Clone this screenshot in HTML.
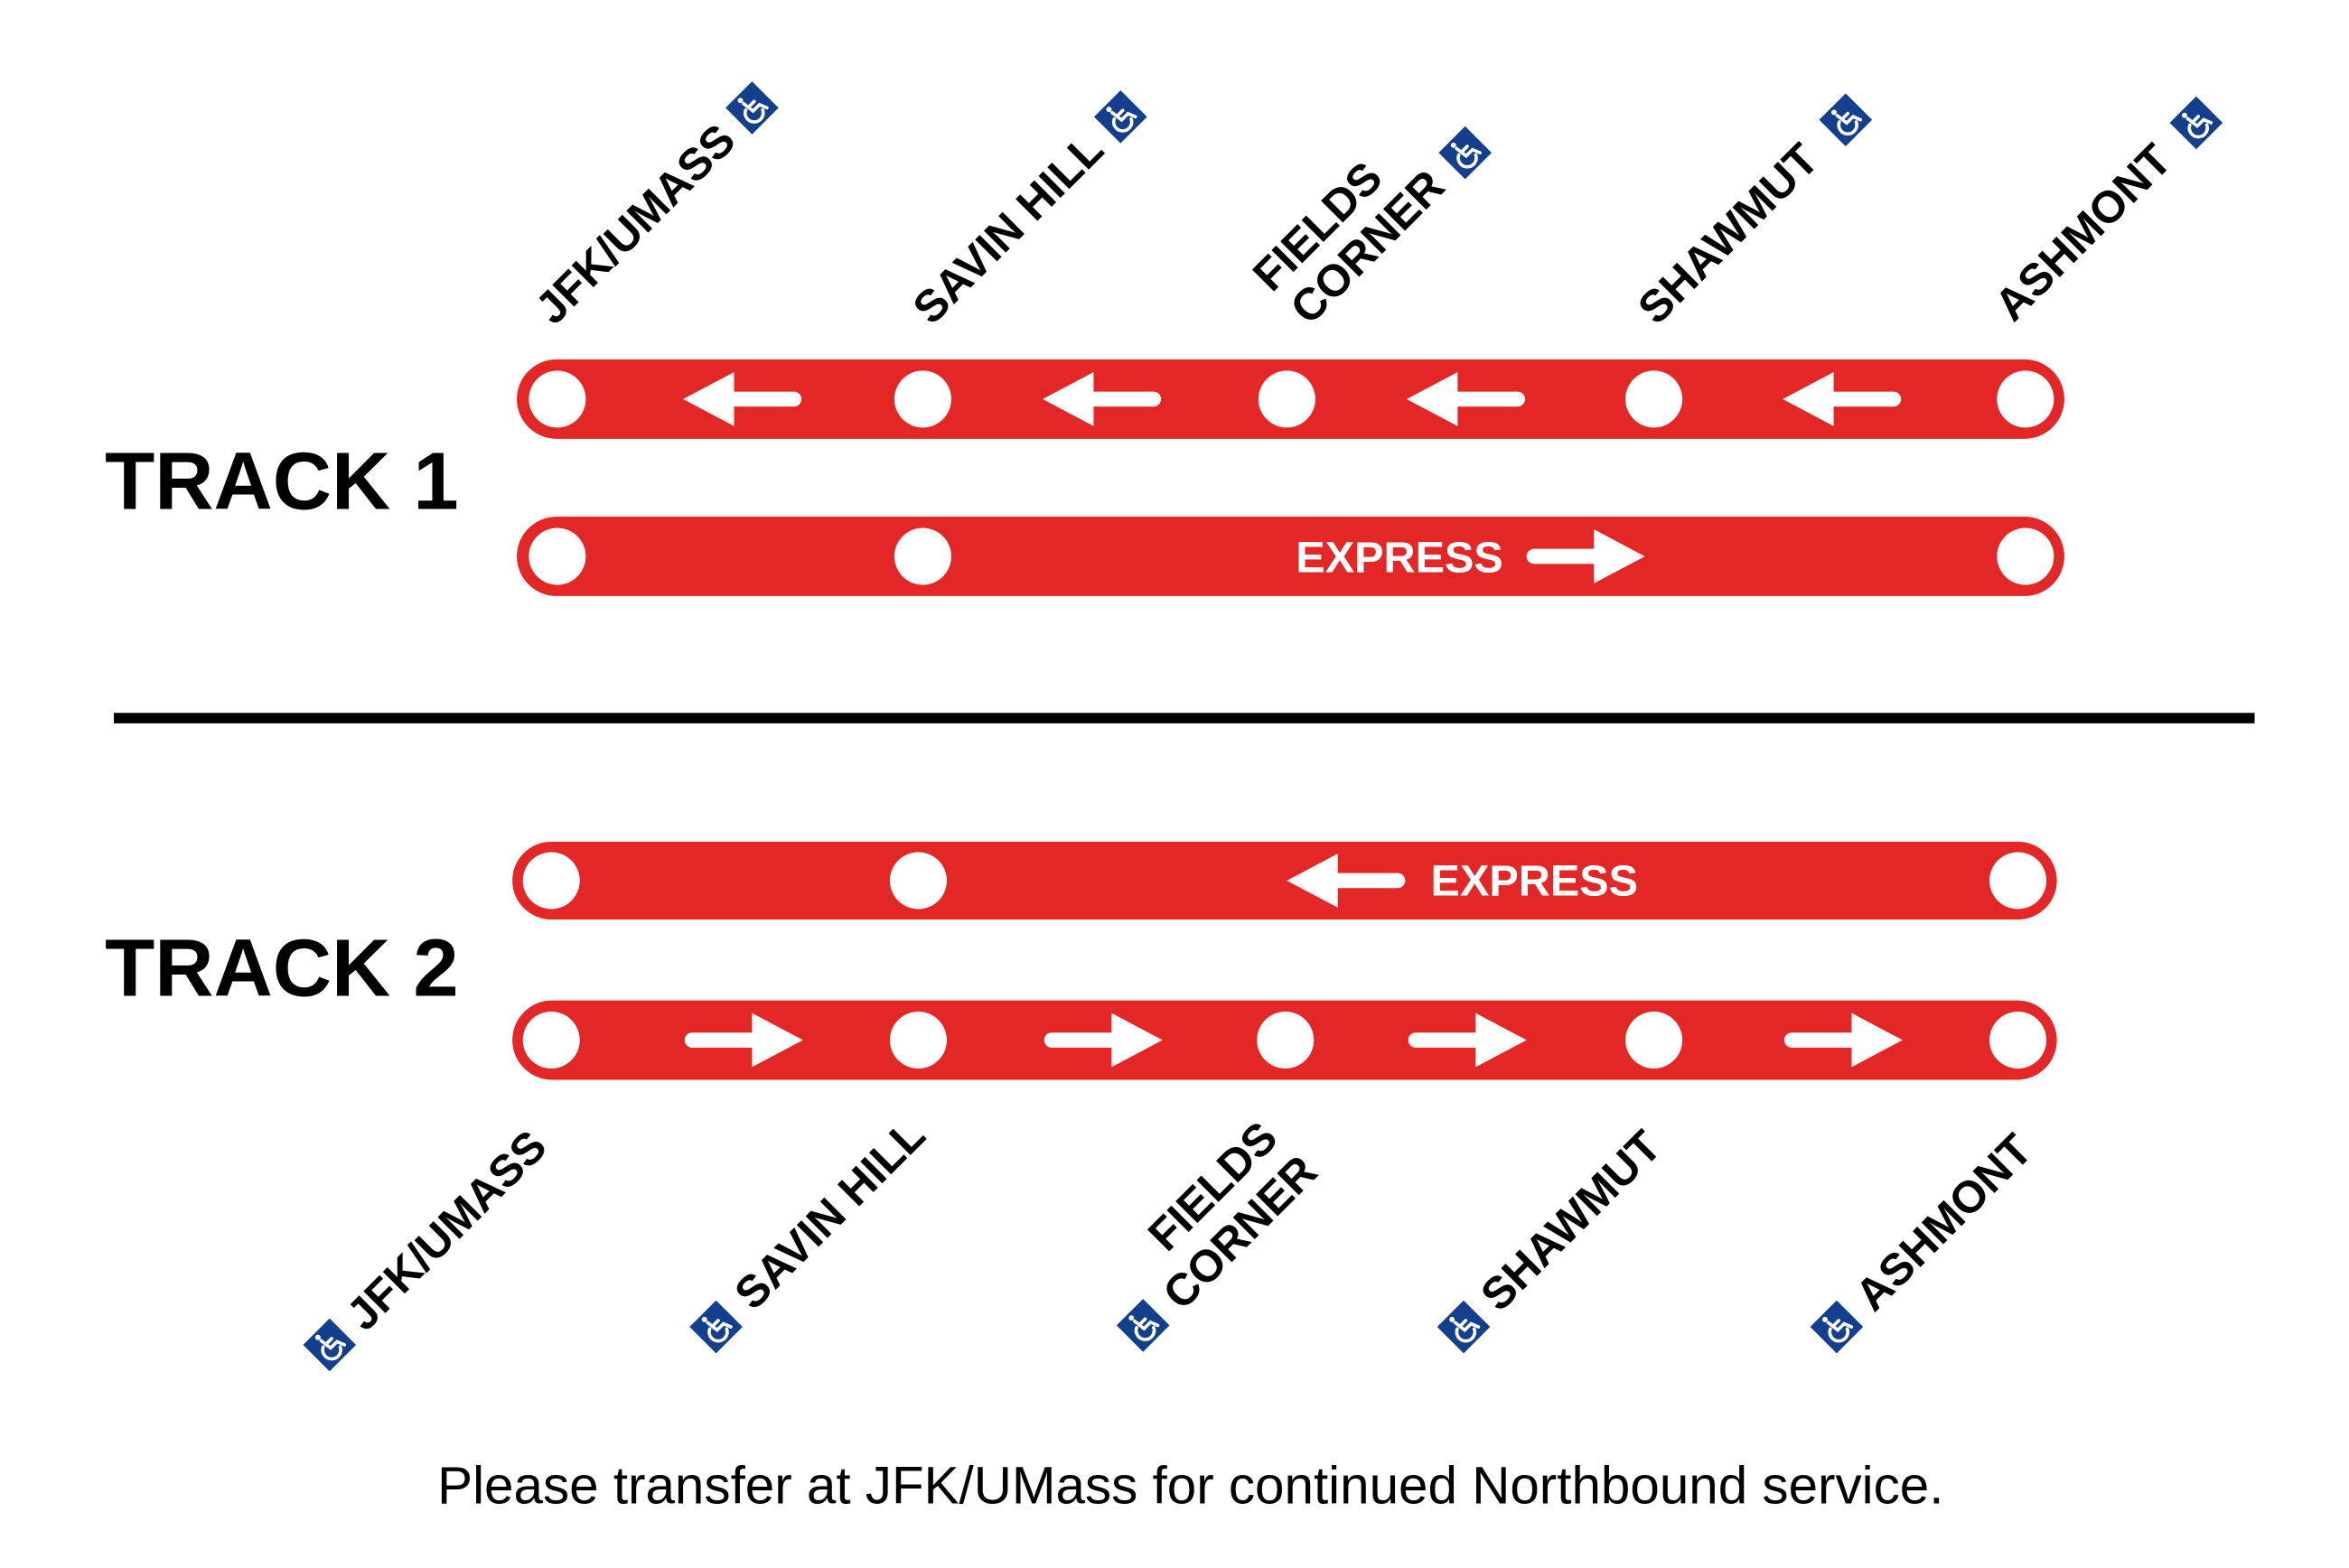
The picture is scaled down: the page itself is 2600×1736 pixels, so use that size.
<!DOCTYPE html>
<html><head><meta charset="utf-8"><style>
html,body{margin:0;padding:0;background:#fff;}
svg{display:block;}
text{font-family:"Liberation Sans",Arial,sans-serif;}
</style></head><body>
<svg width="2600" height="1736" viewBox="0 0 1568 1047" preserveAspectRatio="none" xmlns="http://www.w3.org/2000/svg">
<defs>
  <g id="la"><path d="M-40 0 L-6 -18 L-6 -5 L34 -5 A5 5 0 0 1 34 5 L-6 5 L-6 18 Z" fill="#fff"/></g>
  <g id="ra"><path d="M40 0 L6 -18 L6 -5 L-34 -5 A5 5 0 0 0 -34 5 L6 5 L6 18 Z" fill="#fff"/></g>
  <g id="hc">
    <rect x="-12.5" y="-12.5" width="25" height="25" fill="#133f8c" transform="rotate(45)"/>
    <g transform="rotate(-45)" stroke="#fff" fill="none" stroke-width="2.2" stroke-linecap="round">
      <circle cx="-2" cy="-9" r="1.8" fill="#fff" stroke="none"/>
      <path d="M-2 -6 L-1 2 L5 2 L7 7"/>
      <path d="M-1 -2 L4 -2"/>
      <path d="M-4 -2 A6 6 0 1 0 4 6"/>
    </g>
  </g>
</defs>

<!-- Track 1 -->
<text x="70" y="340" font-size="54.5" font-weight="bold" fill="#000">TRACK 1</text>
<rect x="345" y="240" width="1033" height="53" rx="26.5" fill="#e32726"/>
<g fill="#fff"><circle cx="372" cy="266.5" r="19"/><circle cx="616" cy="266.5" r="19"/><circle cx="859" cy="266.5" r="19"/><circle cx="1104" cy="266.5" r="19"/><circle cx="1352" cy="266.5" r="19"/></g>
<use href="#la" x="496" y="266.5"/><use href="#la" x="736" y="266.5"/><use href="#la" x="979" y="266.5"/><use href="#la" x="1230" y="266.5"/>

<rect x="345" y="345" width="1033" height="53" rx="26.5" fill="#e32726"/>
<g fill="#fff"><circle cx="372" cy="371.5" r="19"/><circle cx="616" cy="371.5" r="19"/><circle cx="1352" cy="371.5" r="19"/></g>
<text x="865" y="382" font-size="29.3" font-weight="bold" fill="#fff">EXPRESS</text>
<use href="#ra" x="1058" y="371.5"/>

<!-- divider -->
<rect x="76" y="476" width="1429" height="7" fill="#000"/>

<!-- Track 2 -->
<text x="70" y="665" font-size="54.5" font-weight="bold" fill="#000">TRACK 2</text>
<rect x="342" y="562" width="1031" height="52" rx="26" fill="#e32726"/>
<g fill="#fff"><circle cx="368" cy="588" r="19"/><circle cx="613" cy="588" r="19"/><circle cx="1347" cy="588" r="19"/></g>
<use href="#la" x="899" y="588"/>
<text x="955" y="598" font-size="29.3" font-weight="bold" fill="#fff">EXPRESS</text>

<rect x="342" y="668" width="1031" height="53" rx="26.5" fill="#e32726"/>
<g fill="#fff"><circle cx="368" cy="694.5" r="19"/><circle cx="613" cy="694.5" r="19"/><circle cx="858" cy="694.5" r="19"/><circle cx="1104" cy="694.5" r="19"/><circle cx="1347" cy="694.5" r="19"/></g>
<use href="#ra" x="496" y="694.5"/><use href="#ra" x="736" y="694.5"/><use href="#ra" x="979" y="694.5"/><use href="#ra" x="1230" y="694.5"/>

<!-- top labels -->
<g font-size="30" font-weight="bold" fill="#000">
<text transform="translate(370,218) rotate(-45)">JFK/UMASS</text>
<text transform="translate(622,218) rotate(-45)">SAVIN HILL</text>
<text transform="translate(849,196) rotate(-45)">FIELDS</text>
<text transform="translate(874,218) rotate(-45)">CORNER</text>
<text transform="translate(1106,218) rotate(-45)">SHAWMUT</text>
<text transform="translate(1344,216) rotate(-45)">ASHMONT</text>
</g>
<use href="#hc" x="502" y="72"/><use href="#hc" x="748" y="78"/><use href="#hc" x="978" y="102"/><use href="#hc" x="1232" y="80"/><use href="#hc" x="1466" y="82"/>

<!-- bottom labels -->
<g font-size="30" font-weight="bold" fill="#000">
<text transform="translate(244,890) rotate(-45)">JFK/UMASS</text>
<text transform="translate(503,876) rotate(-45)">SAVIN HILL</text>
<text transform="translate(779,837) rotate(-45)">FIELDS</text>
<text transform="translate(789,876) rotate(-45)">CORNER</text>
<text transform="translate(1001,877) rotate(-45)">SHAWMUT</text>
<text transform="translate(1251,877) rotate(-45)">ASHMONT</text>
</g>
<use href="#hc" x="220" y="898"/><use href="#hc" x="478" y="886"/><use href="#hc" x="763" y="885"/><use href="#hc" x="977" y="886"/><use href="#hc" x="1226" y="886"/>

<text x="292" y="1004" font-size="35.2" fill="#000">Please transfer at JFK/UMass for continued Northbound service.</text>
</svg>
</body></html>
